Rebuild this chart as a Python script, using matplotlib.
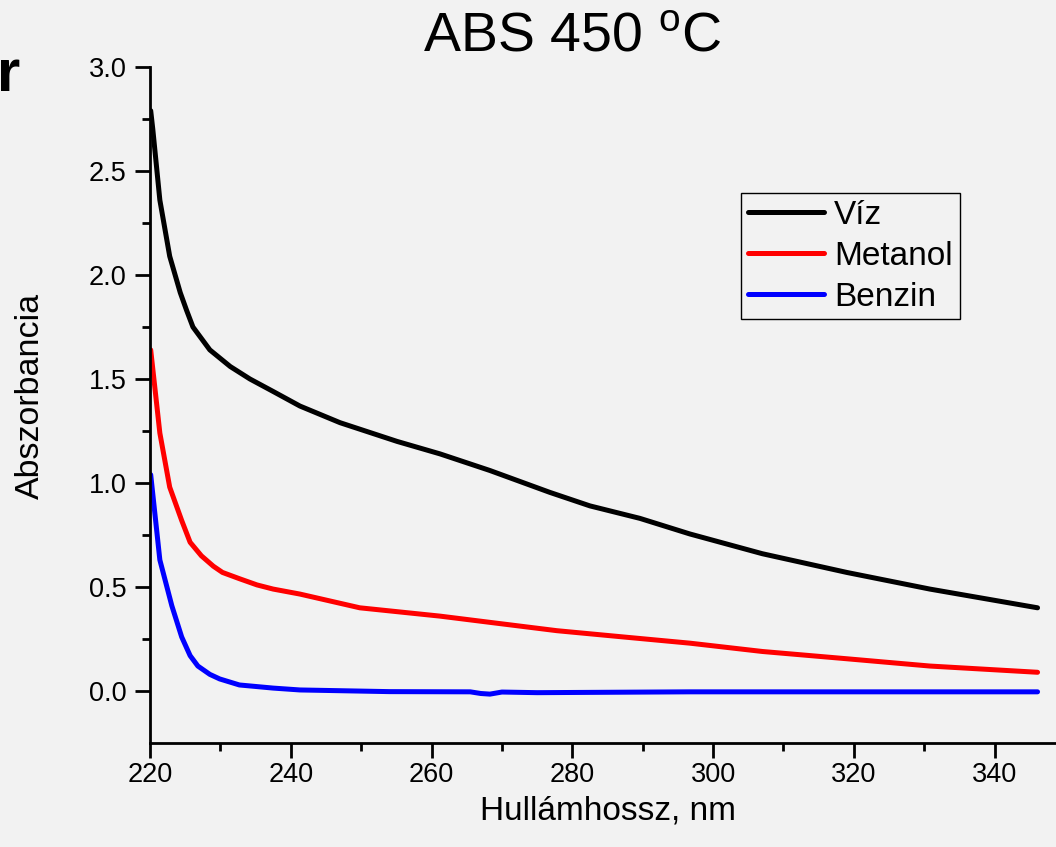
import numpy as np
import matplotlib
matplotlib.use("Agg")
import matplotlib.pyplot as plt

plt.rcParams['font.family'] = ['Liberation Sans', 'DejaVu Sans']
plt.rcParams['mathtext.fontset'] = 'custom'
plt.rcParams['mathtext.rm'] = 'Liberation Sans'
plt.rcParams['mathtext.it'] = 'Liberation Sans'

# Víz - hullámhossz (nm), abszorbancia
viz_nm = [220.1, 220.4, 221.4, 222.8, 224.3, 225.2, 226.1, 228.5, 231.4, 234.2,
          237.5, 241.3, 247.0, 255.1, 261.2, 268.3, 276.8, 282.5, 289.6, 296.7,
          307.0, 319.0, 330.8, 346.1]
viz_abs = [2.79, 2.70, 2.36, 2.09, 1.915, 1.83, 1.75, 1.64, 1.56, 1.50,
           1.44, 1.37, 1.29, 1.20, 1.14, 1.06, 0.955, 0.89, 0.83, 0.755,
           0.66, 0.57, 0.49, 0.40]

metanol_nm = [220.1, 221.4, 222.8, 224.5, 225.7, 227.3, 229.0, 230.3, 232.7, 235.2,
              237.5, 241.3, 249.8, 261.2, 268.3, 277.8, 287.2, 296.7, 307.0, 319.0,
              330.8, 346.1]
metanol_abs = [1.64, 1.24, 0.98, 0.82, 0.715, 0.65, 0.60, 0.57, 0.54, 0.51,
               0.49, 0.466, 0.40, 0.36, 0.33, 0.29, 0.26, 0.23, 0.19, 0.155,
               0.12, 0.09]

benzin_nm = [220.1, 221.4, 223.1, 224.5, 225.7, 226.8, 228.5, 229.9, 232.7, 237.5,
             241.3, 254.0, 265.5, 267.0, 268.3, 270.0, 275.0, 296.7, 346.1]
benzin_abs = [1.04, 0.63, 0.41, 0.26, 0.17, 0.12, 0.08, 0.058, 0.029, 0.014,
              0.005, -0.003, -0.004, -0.012, -0.015, -0.005, -0.008, -0.004, -0.004]

bg = '#f2f2f2'
fig = plt.figure(figsize=(10.56, 8.47), dpi=100, facecolor=bg)
ax = fig.add_axes([150 / 1056, 104 / 847, 915 / 1056, 676 / 847], facecolor=bg)

line_kw = dict(lw=3.6, solid_capstyle='round', solid_joinstyle='round')
ax.plot(viz_nm, viz_abs, color='black', label='Víz', **line_kw)
ax.plot(metanol_nm, metanol_abs, color='#ff0000', label='Metanol', **line_kw)
ax.plot(benzin_nm, benzin_abs, color='#0000ff', label='Benzin', **line_kw)

ax.set_xlim(220, 350)
ax.set_ylim(-0.25, 3.0)
ax.set_xticks(np.arange(220, 341, 20))
ax.set_xticks(np.arange(230, 350, 20), minor=True)
ax.set_yticks(np.arange(0, 3.01, 0.5))
ax.set_yticks(np.arange(0.25, 3.0, 0.5), minor=True)
ax.yaxis.set_major_formatter(matplotlib.ticker.FormatStrFormatter('%.1f'))

for s in ['top', 'right']:
    ax.spines[s].set_visible(False)
for s in ['left', 'bottom']:
    ax.spines[s].set_linewidth(2)
ax.tick_params(which='major', direction='out', length=11, width=2, labelsize=19.5)
ax.tick_params(axis='x', which='major', pad=3)
ax.tick_params(axis='y', which='major', pad=6)
ax.tick_params(which='minor', direction='out', length=5.5, width=2)

ax.set_xlabel('Hullámhossz, nm', fontsize=24, labelpad=5)
fig.text(30 / 1056, 1 - 396 / 847, 'Abszorbancia', rotation=90, fontsize=24.5,
         ha='center', va='center')

fig.text(572 / 1056, 1 - 52 / 847, 'ABS 450 $^{\\mathrm{o}}$C', fontsize=40,
         ha='center', va='baseline')
fig.text(20 / 1056, 1 - 91 / 847, 'r', fontsize=43, fontweight='bold',
         ha='right', va='baseline')

leg = ax.legend(loc='upper left', bbox_to_anchor=(741 / 1056, 1 - 193 / 847),
                bbox_transform=fig.transFigure, fontsize=24, frameon=True,
                fancybox=False, edgecolor='black', facecolor=bg, framealpha=1,
                handlelength=2.3, handletextpad=0.3, labelspacing=0.3,
                borderpad=0.2, borderaxespad=0)
leg.get_frame().set_linewidth(1)

fig.savefig('out.png', dpi=100, facecolor=bg)
